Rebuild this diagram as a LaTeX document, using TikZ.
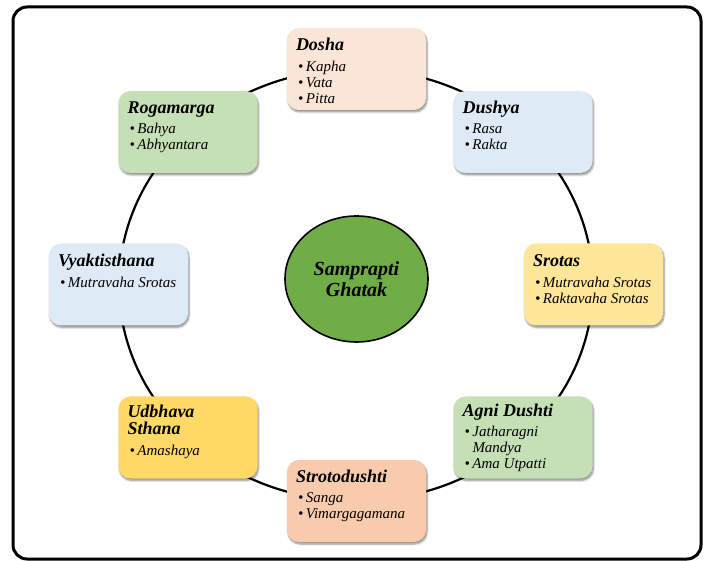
\documentclass[tikz,border=0pt]{standalone}
\usepackage{fontspec}
\setmainfont{Liberation Serif}
\usetikzlibrary{shapes.geometric, shadows.blur}

\definecolor{peachL}{RGB}{251,229,214}
\definecolor{peachD}{RGB}{248,203,173}
\definecolor{blueL}{RGB}{222,235,247}
\definecolor{yellowL}{RGB}{255,230,153}
\definecolor{yellowD}{RGB}{255,217,102}
\definecolor{greenL}{RGB}{197,224,180}
\definecolor{greenD}{RGB}{112,173,71}

\newcommand{\itm}{\par\hangindent=8pt\hangafter=1\noindent\makebox[8pt][l]{\textbullet}}
\newcommand{\itemlist}[1]{\parbox[t]{124pt}{\raggedright #1}}

\begin{document}
\begin{tikzpicture}[x=1pt, y=-1pt,
  box/.style={rectangle, rounded corners=12pt, minimum width=139pt, minimum height=82pt,
    inner sep=0pt, blur shadow={shadow xshift=1pt, shadow yshift=-2pt, shadow blur steps=6, shadow opacity=45}},
  ttl/.style={anchor=base west, inner sep=0pt,
    font=\fontsize{18}{17}\selectfont\bfseries\itshape},
  lst/.style={anchor=base west, inner sep=0pt,
    font=\fontsize{15}{16}\selectfont\itshape},
  hub/.style={ellipse, draw, line width=1.6pt, fill=greenD, minimum width=143pt, minimum height=126pt,
    align=center, font=\fontsize{20}{21}\selectfont\bfseries\itshape}]
  \useasboundingbox (0,0) rectangle (710,561);

  % outer frame
  \draw[line width=3pt, rounded corners=14pt] (13,7) rectangle (701,559);

  % ring behind the boxes
  \coordinate (ringc) at (356,285);
  \draw[line width=2.2pt] (ringc) ellipse [x radius=237pt, y radius=216pt];

  % centre
  \node[hub] (ghatak) at (356.5,279) {Samprapti\\Ghatak};

  % Dosha (top)
  \node[box, fill=peachL] (dosha) at (356.5,69) {};
  \node[ttl] (doshaT) at ([shift={(9,23)}]dosha.north west) {Dosha};
  \node[lst] (doshaL) at ([shift={(11,44)}]dosha.north west) {\itemlist{\itm Kapha \itm Vata \itm Pitta}};

  % Dushya
  \node[box, fill=blueL] (dushya) at (523,132) {};
  \node[ttl] (dushyaT) at ([shift={(9,23)}]dushya.north west) {Dushya};
  \node[lst] (dushyaL) at ([shift={(11,43)}]dushya.north west) {\itemlist{\itm Rasa \itm Rakta}};

  % Srotas
  \node[box, fill=yellowL] (srotas) at (593.5,284.5) {};
  \node[ttl] (srotasT) at ([shift={(9,23)}]srotas.north west) {Srotas};
  \node[lst] (srotasL) at ([shift={(11,44)}]srotas.north west) {\itemlist{\itm Mutravaha Srotas \itm Raktavaha Srotas}};

  % Agni Dushti
  \node[box, fill=greenL] (agni) at (523,437.5) {};
  \node[ttl] (agniT) at ([shift={(9,20)}]agni.north west) {Agni Dushti};
  \node[lst] (agniL) at ([shift={(11,40)}]agni.north west) {\itemlist{\itm Jatharagni\hfill\break Mandya \itm Ama Utpatti}};

  % Strotodushti (bottom)
  \node[box, fill=peachD] (stroto) at (356.5,501) {};
  \node[ttl] (strotoT) at ([shift={(9,23)}]stroto.north west) {Strotodushti};
  \node[lst] (strotoL) at ([shift={(11,43)}]stroto.north west) {\itemlist{\itm Sanga \itm Vimargagamana}};

  % Udbhava Sthana
  \node[box, fill=yellowD] (udbhava) at (188,437.5) {};
  \node[ttl] (udbhavaT) at ([shift={(9,21)}]udbhava.north west) {\parbox[t]{128pt}{\raggedright Udbhava\\Sthana}};
  \node[lst] (udbhavaL) at ([shift={(11,59)}]udbhava.north west) {\itemlist{\itm Amashaya}};

  % Vyaktisthana
  \node[box, fill=blueL] (vyakti) at (118.5,284.5) {};
  \node[ttl] (vyaktiT) at ([shift={(9,23)}]vyakti.north west) {Vyaktisthana};
  \node[lst] (vyaktiL) at ([shift={(11,44)}]vyakti.north west) {\itemlist{\itm Mutravaha Srotas}};

  % Rogamarga
  \node[box, fill=greenL] (roga) at (188,132) {};
  \node[ttl] (rogaT) at ([shift={(9,23)}]roga.north west) {Rogamarga};
  \node[lst] (rogaL) at ([shift={(11,43)}]roga.north west) {\itemlist{\itm Bahya \itm Abhyantara}};
\end{tikzpicture}
\end{document}
